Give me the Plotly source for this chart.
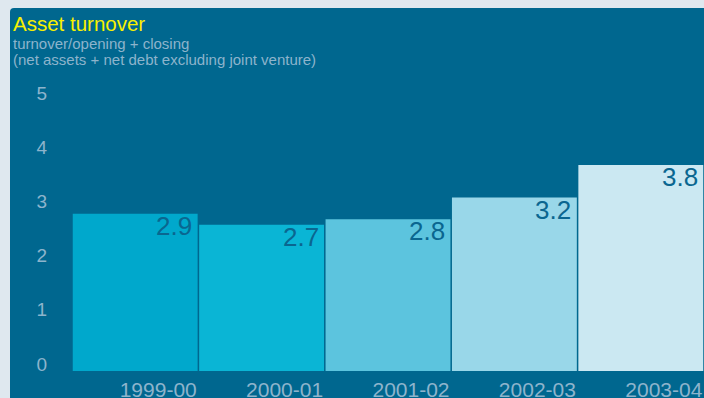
import plotly.graph_objects as go

# Asset turnover by financial year
years = ["1999-00", "2000-01", "2001-02", "2002-03", "2003-04"]
turnover = [2.9, 2.7, 2.8, 3.2, 3.8]
value_labels = ["2.9", "2.7", "2.8", "3.2", "3.8"]
y_ticks = [0, 1, 2, 3, 4, 5]

bar_colors = ["#00a8cc", "#0ab5d5", "#5cc4de", "#99d7e9", "#cbe8f2"]
panel = "#00678f"
frame = "#dfe8ef"
axis_text = "#8db4cc"
value_text = "#0a6690"

W, H = 704, 398
ML, MR, MT, MB = 72, 0, 88, 27
PW, PH = W - ML - MR, H - MT - MB


def px(x):
    return (x - ML) / PW


def py(y):
    return (H - MB - y) / PH


fig = go.Figure(
    go.Bar(
        x=years,
        y=turnover,
        marker=dict(color=bar_colors, line=dict(width=0)),
        hoverinfo="skip",
    )
)

# value labels at the top right corner of each bar
for yr, v, lab in zip(years, turnover, value_labels):
    fig.add_annotation(
        x=yr, y=v, text=lab, showarrow=False,
        xanchor="right", yanchor="top", xshift=59, yshift=5,
        font=dict(family="Liberation Sans, Arial", size=26, color=value_text),
    )

# panel with a rounded top-left corner
r = 4
path = (
    f"M {px(10)},{py(H + 2)} L {px(10)},{py(8 + r)} "
    f"Q {px(10)},{py(8)} {px(10 + r)},{py(8)} "
    f"L {px(W + 2)},{py(8)} L {px(W + 2)},{py(H + 2)} Z"
)
fig.add_shape(type="path", path=path, xref="paper", yref="paper",
              fillcolor=panel, line=dict(width=0), layer="below")

fig.add_annotation(
    x=px(12), y=py(11), xref="paper", yref="paper", showarrow=False,
    xanchor="left", yanchor="top", text="Asset turnover", borderpad=0,
    font=dict(family="Liberation Sans, Arial", size=20.5, color="#f8f000"),
)
subtitle = ["turnover/opening + closing",
            "(net assets + net debt excluding joint venture)"]
for i, line in enumerate(subtitle):
    fig.add_annotation(
        x=px(12), y=py(34 + 16 * i), xref="paper", yref="paper", showarrow=False,
        xanchor="left", yanchor="top", align="left", borderpad=0, text=line,
        font=dict(family="Liberation Sans, Arial", size=15, color=axis_text),
    )

fig.update_layout(
    width=W, height=H,
    margin=dict(l=ML, r=MR, t=MT, b=MB, pad=0, autoexpand=False),
    paper_bgcolor=frame,
    plot_bgcolor=panel,
    bargap=0.012,
    showlegend=False,
    font=dict(family="Liberation Sans, Arial"),
)
fig.update_xaxes(
    type="category", automargin=False,
    showgrid=False, zeroline=False, showline=False, ticks="",
    tickangle=0,
    tickfont=dict(size=21, color=axis_text),
    ticklabelshift=23, ticklabelstandoff=4,
)
fig.update_yaxes(
    automargin=False,
    range=[0, PH / 54.2], showgrid=False, zeroline=False, showline=False,
    ticks="", tickvals=y_ticks, ticktext=[str(t) for t in y_ticks],
    tickfont=dict(size=19, color=axis_text),
    ticklabelshift=-7, ticklabelstandoff=24,
)

fig.write_html("out.html")
